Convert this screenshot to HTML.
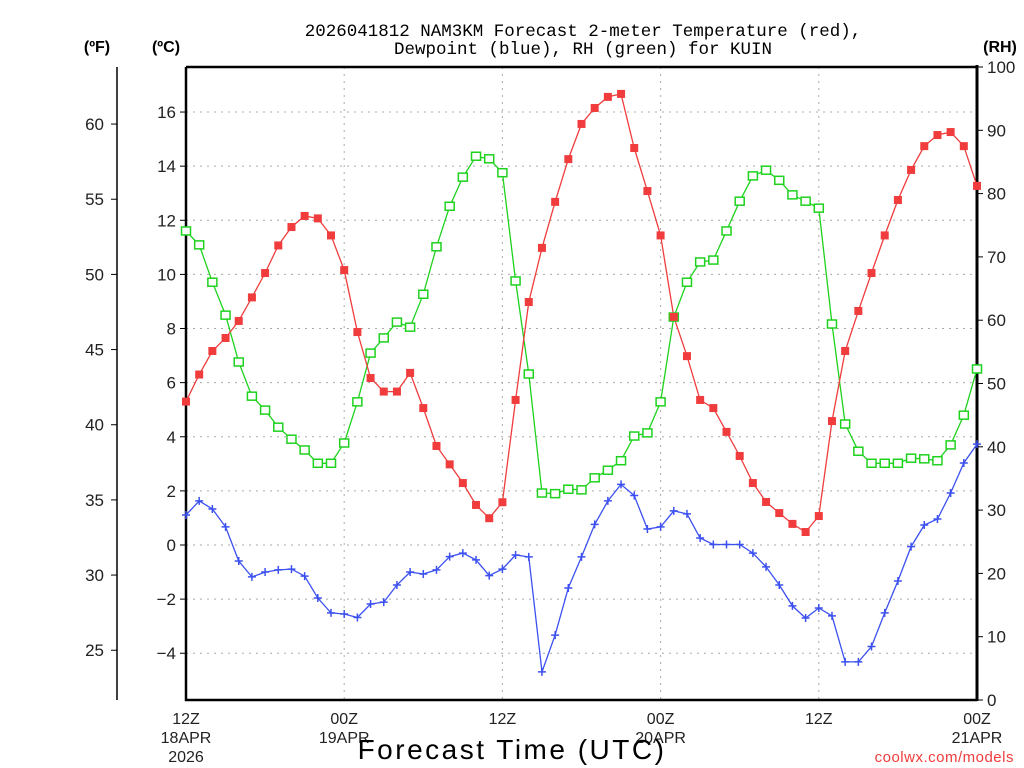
<!DOCTYPE html>
<html><head><meta charset="utf-8"><style>
html,body{margin:0;padding:0;background:#fff;}
svg{display:block;}
text{font-family:"Liberation Sans",sans-serif;}
</style></head><body>
<svg id="chart" width="1024" height="768" viewBox="0 0 1024 768" xmlns="http://www.w3.org/2000/svg">
<text x="583" y="36" text-anchor="middle" font-size="17.5" style="font-family:'Liberation Mono',monospace">2026041812 NAM3KM Forecast 2-meter Temperature (red),</text>
<text x="583" y="54" text-anchor="middle" font-size="17.5" style="font-family:'Liberation Mono',monospace">Dewpoint (blue), RH (green) for KUIN</text>
<text x="97" y="52" text-anchor="middle" font-size="16" font-weight="bold">(ºF)</text>
<text x="166" y="52" text-anchor="middle" font-size="16" font-weight="bold">(ºC)</text>
<text x="1000" y="52" text-anchor="middle" font-size="16" font-weight="bold">(RH)</text>
<g id="grid"></g>
<g id="axes"></g>
<g id="series"></g>
<text x="512" y="759" text-anchor="middle" font-size="28" letter-spacing="2.5">Forecast Time (UTC)</text>
<text x="1014" y="762" text-anchor="end" font-size="15" fill="#f03c3c" letter-spacing="0.5">coolwx.com/models</text>
</svg>
<script>
const tempC = [5.3,6.3,7.17,7.65,8.28,9.15,10.05,11.07,11.75,12.16,12.07,11.44,10.16,7.87,6.17,5.67,5.67,6.36,5.06,3.66,2.98,2.29,1.48,0.99,1.58,5.36,8.98,10.98,12.68,14.26,15.56,16.15,16.56,16.67,14.67,13.08,11.44,8.43,6.98,5.36,5.06,4.18,3.29,2.29,1.59,1.18,0.78,0.48,1.07,4.58,7.17,8.65,10.05,11.44,12.75,13.86,14.74,15.15,15.26,14.74,13.27];
const dewC = [1.11,1.63,1.33,0.67,-0.59,-1.18,-1.0,-0.92,-0.89,-1.15,-1.96,-2.51,-2.55,-2.68,-2.18,-2.11,-1.48,-1.0,-1.07,-0.92,-0.43,-0.3,-0.55,-1.13,-0.89,-0.37,-0.44,-4.69,-3.33,-1.59,-0.44,0.76,1.63,2.24,1.83,0.59,0.67,1.26,1.15,0.26,0.02,0.02,0.02,-0.3,-0.81,-1.48,-2.25,-2.7,-2.33,-2.62,-4.32,-4.32,-3.75,-2.51,-1.33,-0.06,0.74,0.96,1.92,3.03,3.73];
const rh = [74.1,71.9,66.0,60.8,53.4,48.0,45.8,43.1,41.2,39.5,37.4,37.4,40.6,47.1,54.8,57.2,59.7,58.9,64.1,71.6,78.0,82.6,85.9,85.5,83.3,66.2,51.5,32.7,32.6,33.3,33.2,35.1,36.3,37.8,41.7,42.2,47.1,60.5,66.0,69.2,69.5,74.1,78.8,82.8,83.7,82.1,79.8,78.8,77.7,59.4,43.6,39.3,37.4,37.4,37.4,38.2,38.1,37.8,40.3,45.0,52.3];
const cTicks = [-4,-2,0,2,4,6,8,10,12,14,16];
const fTicks = [25,30,35,40,45,50,55,60];
const rhTicks = [0,10,20,30,40,50,60,70,80,90,100];
const xTickHours = [0,12,24,36,48,60];
const xTickLabels = [["12Z","18APR","2026"],["00Z","19APR"],["12Z"],["00Z","20APR"],["12Z"],["00Z","21APR"]];

const L=186,R=977,T=67,B=700,NH=60;
const x = h => L + (R-L)*h/NH;
const yC = c => 545 - c*27.06;
const yF = f => yC((f-32)*5/9);
const yRH = r => B - (B-T)*r/100;
const NS="http://www.w3.org/2000/svg";
function mk(tag, attrs, parent){const e=document.createElementNS(NS,tag);for(const k in attrs)e.setAttribute(k,attrs[k]);parent.appendChild(e);return e;}
const grid=document.getElementById('grid'), axes=document.getElementById('axes'), series=document.getElementById('series');

cTicks.forEach(c=>{
  const g=mk('line',{x1:L,x2:R,y1:yC(c),y2:yC(c),stroke:'#aaa','stroke-width':1,'stroke-dasharray':'2,5'},grid);
  
  
  const t=mk('line',{x1:L-6,x2:L,y1:yC(c),y2:yC(c),stroke:'#000','stroke-width':1},axes);
  
  
  const lb=mk('text',{x:L-10,y:yC(c)+6,'text-anchor':'end','font-size':17,fill:'#222'},axes);
  lb.textContent = c<0 ? '\u2212'+Math.abs(c) : String(c);
  
  
});
xTickHours.forEach((h,i)=>{
  if(h>0&&h<NH){
    const g=mk('line',{x1:x(h),x2:x(h),y1:T,y2:B,stroke:'#aaa','stroke-width':1,'stroke-dasharray':'2,5'},grid);
    
    
  }
  xTickLabels[i].forEach((s,j)=>{
    const lb=mk('text',{x:x(h),y:724+j*19,'text-anchor':'middle','font-size':16,fill:'#222'},axes);
    lb.textContent=s;
    
    
  });
});
const fl=mk('line',{x1:117,x2:117,y1:T,y2:B,stroke:'#000','stroke-width':1.5},axes);


fTicks.forEach(f=>{
  const t=mk('line',{x1:111,x2:117,y1:yF(f),y2:yF(f),stroke:'#000','stroke-width':1},axes);
  
  
  const lb=mk('text',{x:104,y:yF(f)+6,'text-anchor':'end','font-size':17,fill:'#222'},axes);
  lb.textContent=String(f);
  
  
});
rhTicks.forEach(r=>{
  const t=mk('line',{x1:R,x2:R+6,y1:yRH(r),y2:yRH(r),stroke:'#000','stroke-width':1},axes);
  
  
  const lb=mk('text',{x:R+10,y:yRH(r)+6,'text-anchor':'start','font-size':17,fill:'#222'},axes);
  lb.textContent=String(r);
  
  
});
const frame=mk('path',{d:`M${L},${T}H${R}M${L},${T}V${B}H${R}`,fill:'none',stroke:'#000','stroke-width':2.5},axes);


const rax=mk('line',{x1:R,x2:R,y1:T-2,y2:B+1,stroke:'#000','stroke-width':3},axes);



function line(vals, yf, color, name){
  const d=vals.map((v,i)=>(i?'L':'M')+x(i).toFixed(1)+','+yf(v).toFixed(1)).join('');
  const p=mk('path',{d:d,fill:'none',stroke:color,'stroke-width':1.3},series);
  
  
}
line(rh,yRH,'#1ed21e','rh-line');
line(tempC,yC,'#f03c3c','temperature-line');
line(dewC,yC,'#3c50f0','dewpoint-line');
rh.forEach((v,i)=>{
  const m=mk('rect',{x:x(i)-4.5,y:yRH(v)-4,width:9,height:8,fill:'#fff',stroke:'#1ed21e','stroke-width':1.5},series);
  
  
});
tempC.forEach((v,i)=>{
  const m=mk('rect',{x:x(i)-4,y:yC(v)-4,width:8,height:8,fill:'#f03c3c'},series);
  
  
});
dewC.forEach((v,i)=>{
  const m=mk('path',{d:`M${x(i)-4},${yC(v)}h8M${x(i)},${yC(v)-4}v8`,stroke:'#3c50f0','stroke-width':1.5},series);
  
  
});
</script>
</body></html>
